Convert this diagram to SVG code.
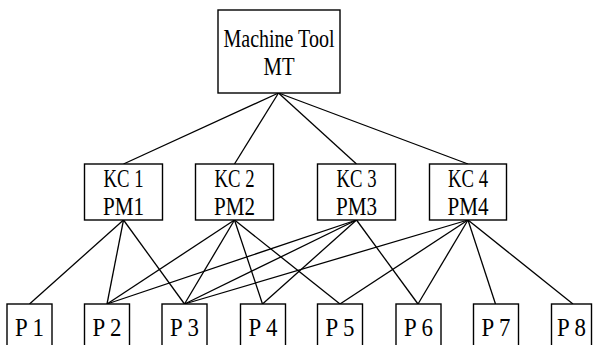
<svg xmlns="http://www.w3.org/2000/svg" width="593" height="345" viewBox="0 0 593 345">
<style>
.box{fill:#fff;stroke:#000;stroke-width:1.4}
.e line{stroke:#000;stroke-width:1.3}
</style>
<rect width="593" height="345" fill="#fff"/>
<g class="e" id="connectors">
<line x1="278.5" y1="93" x2="123.5" y2="164"/>
<line x1="278.5" y1="93" x2="234.5" y2="164"/>
<line x1="278.5" y1="93" x2="356.5" y2="164"/>
<line x1="278.5" y1="93" x2="468" y2="164"/>
<line x1="123.5" y1="220" x2="29.5" y2="304"/>
<line x1="123.5" y1="220" x2="107" y2="304"/>
<line x1="123.5" y1="220" x2="184.5" y2="304"/>
<line x1="234.5" y1="220" x2="107" y2="304"/>
<line x1="234.5" y1="220" x2="184.5" y2="304"/>
<line x1="234.5" y1="220" x2="262.5" y2="304"/>
<line x1="234.5" y1="220" x2="340" y2="304"/>
<line x1="356.5" y1="220" x2="107" y2="304"/>
<line x1="356.5" y1="220" x2="184.5" y2="304"/>
<line x1="356.5" y1="220" x2="262.5" y2="304"/>
<line x1="356.5" y1="220" x2="418" y2="304"/>
<line x1="468" y1="220" x2="184.5" y2="304"/>
<line x1="468" y1="220" x2="340" y2="304"/>
<line x1="468" y1="220" x2="418" y2="304"/>
<line x1="468" y1="220" x2="495.5" y2="304"/>
<line x1="468" y1="220" x2="573" y2="304"/>
</g>
<g font-family="'Liberation Serif', 'Times New Roman', serif" font-size="26" fill="#000" text-anchor="middle">
<g id="MT">
<rect class="box" x="218" y="10" width="122" height="83"/>
<text x="279" y="47" textLength="111" lengthAdjust="spacingAndGlyphs">Machine Tool</text>
<text x="279" y="75" textLength="31" lengthAdjust="spacingAndGlyphs">MT</text>
</g>
<g id="KC1">
<rect class="box" x="84.5" y="164" width="78" height="56"/>
<text x="123.5" y="187" textLength="40" lengthAdjust="spacingAndGlyphs">KC 1</text>
<text x="123.5" y="215" textLength="41" lengthAdjust="spacingAndGlyphs">PM1</text>
</g>
<g id="KC2">
<rect class="box" x="195.5" y="164" width="78" height="56"/>
<text x="234.5" y="187" textLength="40" lengthAdjust="spacingAndGlyphs">KC 2</text>
<text x="234.5" y="215" textLength="41" lengthAdjust="spacingAndGlyphs">PM2</text>
</g>
<g id="KC3">
<rect class="box" x="317.5" y="164" width="78" height="56"/>
<text x="356.5" y="187" textLength="40" lengthAdjust="spacingAndGlyphs">KC 3</text>
<text x="356.5" y="215" textLength="41" lengthAdjust="spacingAndGlyphs">PM3</text>
</g>
<g id="KC4">
<rect class="box" x="429.5" y="164" width="77" height="56"/>
<text x="468" y="187" textLength="40" lengthAdjust="spacingAndGlyphs">KC 4</text>
<text x="468" y="215" textLength="41" lengthAdjust="spacingAndGlyphs">PM4</text>
</g>
<g id="P1"><rect class="box" x="7" y="304" width="45" height="50"/><text x="29.5" y="336" textLength="29" lengthAdjust="spacingAndGlyphs">P 1</text></g>
<g id="P2"><rect class="box" x="84.5" y="304" width="45" height="50"/><text x="107" y="336" textLength="29" lengthAdjust="spacingAndGlyphs">P 2</text></g>
<g id="P3"><rect class="box" x="162" y="304" width="45" height="50"/><text x="184.5" y="336" textLength="29" lengthAdjust="spacingAndGlyphs">P 3</text></g>
<g id="P4"><rect class="box" x="240.5" y="304" width="45" height="50"/><text x="263" y="336" textLength="29" lengthAdjust="spacingAndGlyphs">P 4</text></g>
<g id="P5"><rect class="box" x="317.5" y="304" width="45" height="50"/><text x="340" y="336" textLength="29" lengthAdjust="spacingAndGlyphs">P 5</text></g>
<g id="P6"><rect class="box" x="396" y="304" width="45" height="50"/><text x="418.5" y="336" textLength="29" lengthAdjust="spacingAndGlyphs">P 6</text></g>
<g id="P7"><rect class="box" x="473.5" y="304" width="45" height="50"/><text x="496" y="336" textLength="29" lengthAdjust="spacingAndGlyphs">P 7</text></g>
<g id="P8"><rect class="box" x="551.5" y="304" width="40" height="50"/><text x="571.5" y="336" textLength="29" lengthAdjust="spacingAndGlyphs">P 8</text></g>
</g>
</svg>
